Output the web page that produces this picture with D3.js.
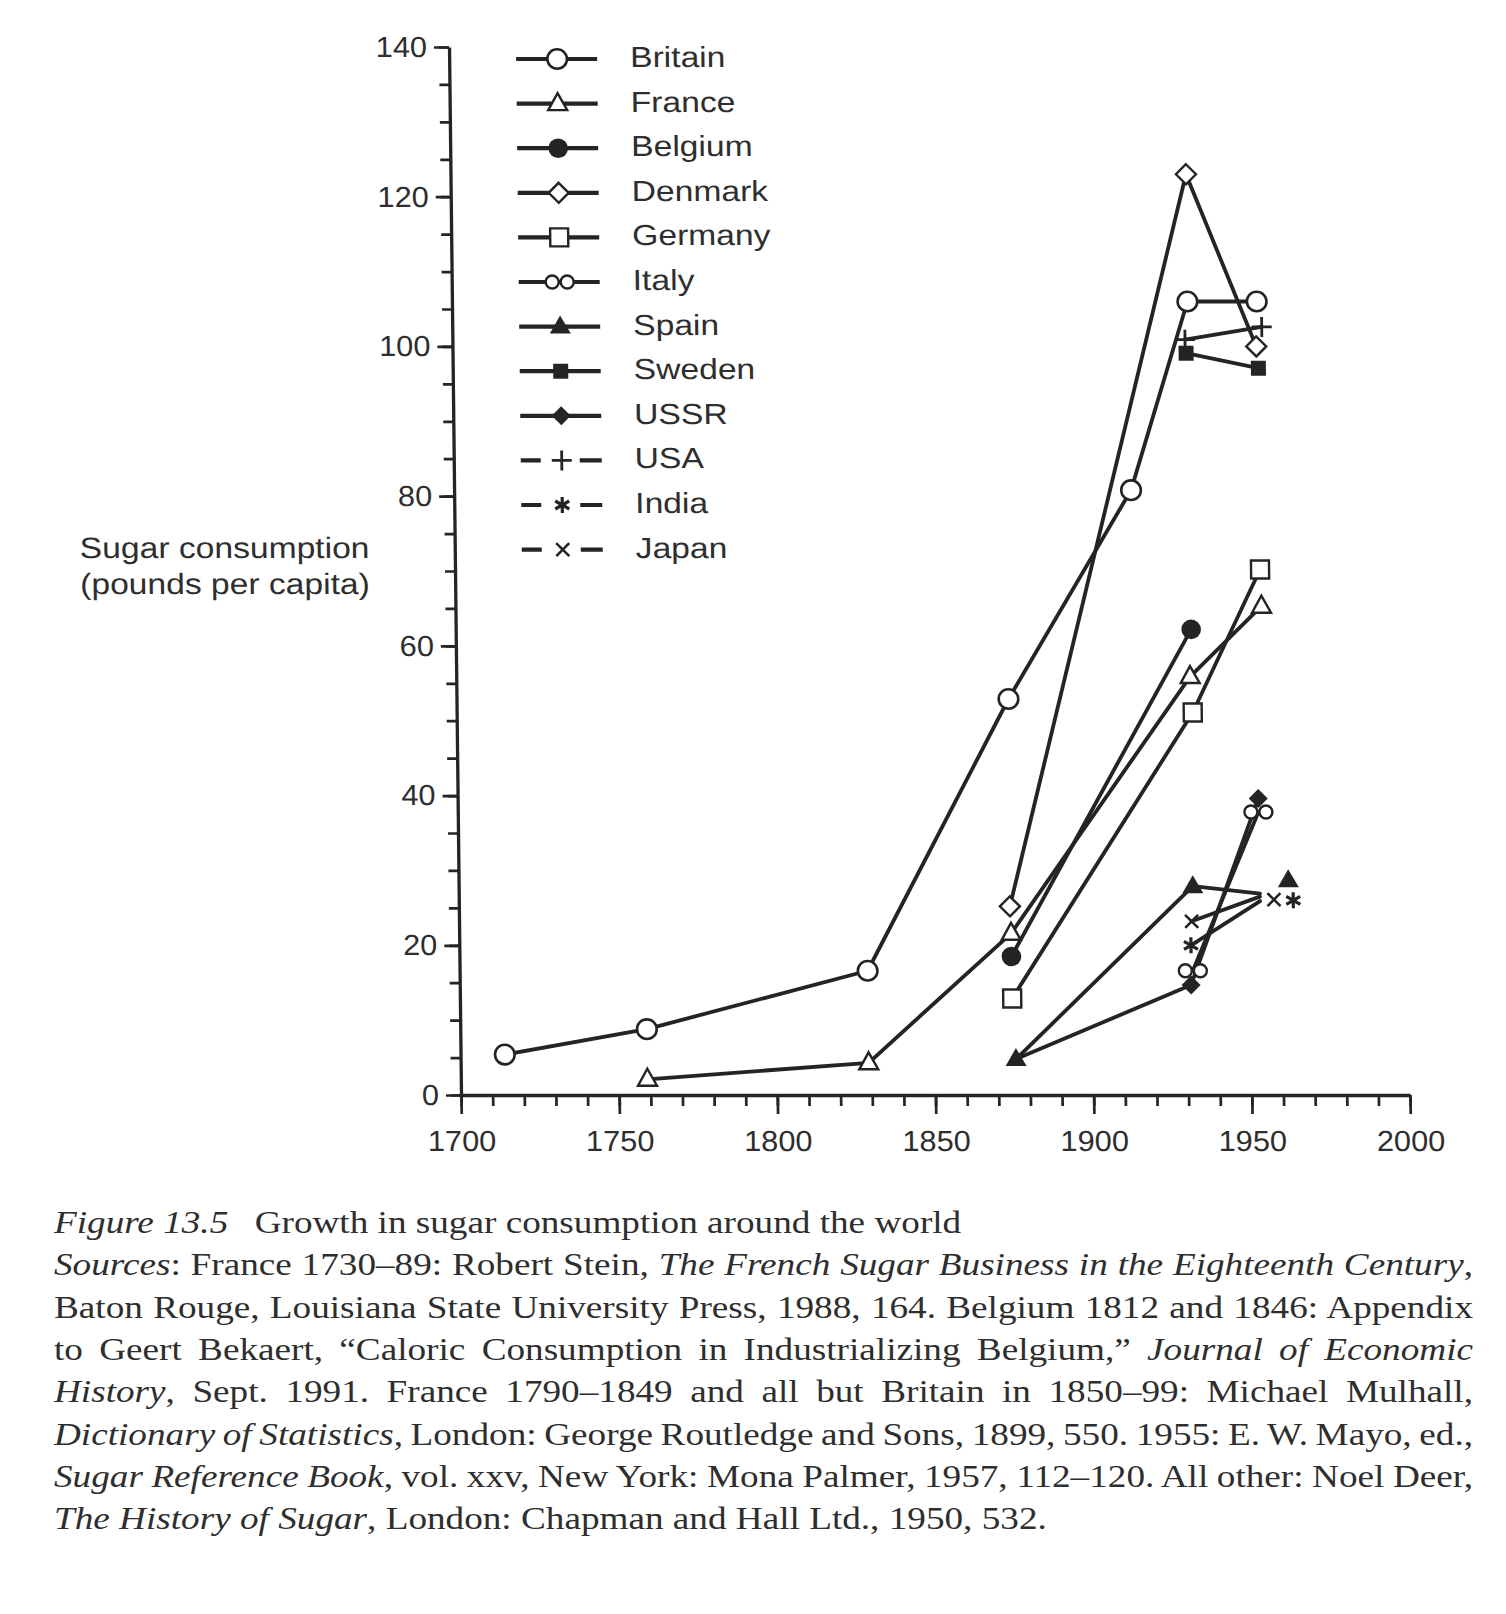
<!DOCTYPE html>
<html>
<head>
<meta charset="utf-8">
<script src="https://cdn.jsdelivr.net/npm/d3@7"></script>
<style>
body { margin: 0; background: #fff; }
</style>
</head>
<body>
<svg id="chart" width="1506" height="1614"></svg>
<script>
// ---- data (year, pounds per capita) ----
var countries = ["Britain", "France", "Belgium", "Denmark", "Germany", "Italy", "Spain", "Sweden", "USSR", "USA", "India", "Japan"];
var xTicks = [1700, 1750, 1800, 1850, 1900, 1950, 2000];
var yTicks = [0, 20, 40, 60, 80, 100, 120, 140];

var britainYears = [1714, 1759, 1829, 1874.5, 1914, 1932.5, 1954.4];
var britainValues = [5.4, 8.8, 16.6, 52.9, 80.8, 106, 106];
var franceYears = [1759, 1829, 1874.5, 1932, 1954.8];
var franceValues = [2.1, 4.3, 21.6, 55.9, 65.3];
var belgiumYears = [1874.5, 1932.5];
var belgiumValues = [18.5, 62.2];
var denmarkYears = [1874.2, 1932.5, 1954.1];
var denmarkValues = [25.2, 123, 100];
var germanyYears = [1874.6, 1932.7, 1954.5];
var germanyValues = [12.9, 51.1, 70.2];
var italyYears = [1931.8, 1953.1];
var italyValues = [16.6, 37.8];
var spainYears = [1875.6, 1932.1, 1953.3];
var spainValues = [4.8, 27.9, 26.9];
var spainMarkYears = [1875.6, 1932.1, 1962.3];   // last marker sits off the line end
var spainMarkValues = [4.8, 27.9, 28.7];
var swedenYears = [1931.9, 1954.7];
var swedenValues = [99.1, 97.1];
var ussrYears = [1875.6, 1931.2, 1953.1];
var ussrValues = [4.8, 14.7, 39.6];
var ussrMarkYears = [1931.2, 1953.1];
var ussrMarkValues = [14.7, 39.6];
var usaYears = [1931.6, 1955.9];
var usaValues = [100.9, 102.6];
var indiaYears = [1931.3, 1953.3];
var indiaValues = [20.0, 25.9];
var indiaMarkYears = [1931.3, 1963.8];
var indiaMarkValues = [20.0, 26.0];
var japanYears = [1931.6, 1953.3];
var japanValues = [23.2, 26.5];
var japanMarkYears = [1931.6, 1957.7];
var japanMarkValues = [23.2, 26.1];

var captionLines = [
  [["Figure 13.5", 1], ["Growth in sugar consumption around the world", 0]],
  [["Sources", 1], [": France 1730\u201389: Robert Stein, ", 0], ["The French Sugar Business in the Eighteenth Century", 1], [",", 0]],
  [["Baton Rouge, Louisiana State University Press, 1988, 164. Belgium 1812 and 1846: Appendix", 0]],
  [["to Geert Bekaert, \u201cCaloric Consumption in Industrializing Belgium,\u201d ", 0], ["Journal of Economic", 1]],
  [["History", 1], [", Sept. 1991. France 1790\u20131849 and all but Britain in 1850\u201399: Michael Mulhall,", 0]],
  [["Dictionary of Statistics", 1], [", London: George Routledge and Sons, 1899, 550. 1955: E. W. Mayo, ed.,", 0]],
  [["Sugar Reference Book", 1], [", vol. xxv, New York: Mona Palmer, 1957, 112\u2013120. All other: Noel Deer,", 0]],
  [["The History of Sugar", 1], [", London: Chapman and Hall Ltd., 1950, 532.", 0]]
];

function zip(a, b) { return a.map(function (v, i) { return [v, b[i]]; }); }

var series = [
  {shape: "circle", line: zip(britainYears, britainValues)},
  {shape: "triangle", line: zip(franceYears, franceValues)},
  {shape: "dot", line: zip(belgiumYears, belgiumValues)},
  {shape: "diamond", line: zip(denmarkYears, denmarkValues)},
  {shape: "square", line: zip(germanyYears, germanyValues)},
  {shape: "twin", line: zip(italyYears, italyValues)},
  {shape: "triFill", line: zip(spainYears, spainValues), marks: zip(spainMarkYears, spainMarkValues)},
  {shape: "squareFill", line: zip(swedenYears, swedenValues)},
  {shape: "diamondFill", line: zip(ussrYears, ussrValues), marks: zip(ussrMarkYears, ussrMarkValues)},
  {shape: "plus", line: zip(usaYears, usaValues), dashed: true},
  {shape: "star", line: zip(indiaYears, indiaValues), marks: zip(indiaMarkYears, indiaMarkValues), dashed: true},
  {shape: "cross", line: zip(japanYears, japanValues), marks: zip(japanMarkYears, japanMarkValues), dashed: true}
];
series.forEach(function (s, i) { s.name = countries[i]; if (!s.marks) s.marks = s.line; });

var ink = "#242424";
var textInk = "#2e2e2e";
var sans = "'Liberation Sans', Arial, Helvetica, sans-serif";
var serif = "'Liberation Serif', 'Times New Roman', serif";

var svg = d3.select("#chart");
svg.append("rect").attr("width", 1506).attr("height", 1614).attr("fill", "#fff");

// the scan is slightly sheared: top of the y axis sits ~12px left of its foot
var chart = svg.append("g")
  .attr("transform", "translate(0,1095) skewX(0.655) translate(0,-1095)");

var x = d3.scaleLinear().domain([1700, 2000]).range([461, 1410]);
var y = d3.scaleLinear().domain([0, 140]).range([1095, 47]);

// keep a text's anchor fixed while widening the glyphs
function stretch(sel, sx) {
  sel.attr("transform", function () {
    var ax = +(this.getAttribute("x") || 0);
    return "translate(" + (ax * (1 - sx)) + ",0) scale(" + sx + ",1)";
  });
}

// ---- axes ----
var xMinor = chart.append("g").attr("transform", "translate(0,1095)")
  .call(d3.axisBottom(x).tickValues(d3.range(1700, 2001, 10)).tickSize(11).tickFormat(""));
xMinor.select(".domain").remove();
var xMajor = chart.append("g").attr("transform", "translate(0,1095)")
  .call(d3.axisBottom(x).tickValues(xTicks).tickSize(19).tickSizeOuter(0).tickPadding(16).tickFormat(d3.format("d")));

var yMinor = chart.append("g").attr("transform", "translate(461,0)")
  .call(d3.axisLeft(y).tickValues(d3.range(0, 141, 5)).tickSize(10).tickFormat(""));
yMinor.select(".domain").remove();
var yMajor = chart.append("g").attr("transform", "translate(461,0)")
  .call(d3.axisLeft(y).tickValues(yTicks).tickSize(15).tickSizeOuter(0).tickPadding(7));

chart.selectAll(".tick line").attr("stroke", ink).attr("stroke-width", 2.7);
chart.selectAll(".domain").attr("stroke", ink).attr("stroke-width", 3.3);
chart.selectAll(".tick text")
  .attr("fill", textInk).attr("font-family", sans).attr("font-size", 29);
stretch(xMajor.selectAll(".tick text"), 1.06);
stretch(yMajor.selectAll(".tick text"), 1.06);

// y title
var yTitle = chart.append("text").attr("font-family", sans).attr("font-size", 29.5).attr("fill", textInk)
  .attr("transform", "translate(" + (86 * (1 - 1.14)) + ",0) scale(1.14,1)");
yTitle.append("tspan").attr("x", 86).attr("y", 558).text("Sugar consumption");
yTitle.append("tspan").attr("x", 86).attr("y", 594).text("(pounds per capita)");

// ---- markers ----
function marker(g, shape) {
  switch (shape) {
    case "circle":
      g.append("circle").attr("r", 9.8).attr("fill", "#fff").attr("stroke", ink).attr("stroke-width", 2.6); break;
    case "dot":
      g.append("circle").attr("r", 9.8).attr("fill", ink); break;
    case "triangle":
      g.append("path").attr("d", "M0,-10.5L9.5,6.5L-9.5,6.5Z").attr("fill", "#fff").attr("stroke", ink).attr("stroke-width", 2.4); break;
    case "triFill":
      g.append("path").attr("d", "M0,-11L10.5,7L-10.5,7Z").attr("fill", ink); break;
    case "diamond":
      g.append("path").attr("d", "M0,-10L10,0L0,10L-10,0Z").attr("fill", "#fff").attr("stroke", ink).attr("stroke-width", 2.4); break;
    case "diamondFill":
      g.append("path").attr("d", "M0,-9.5L9.5,0L0,9.5L-9.5,0Z").attr("fill", ink); break;
    case "square":
      g.append("rect").attr("x", -9).attr("y", -9).attr("width", 18).attr("height", 18)
        .attr("fill", "#fff").attr("stroke", ink).attr("stroke-width", 2.4); break;
    case "squareFill":
      g.append("rect").attr("x", -7.5).attr("y", -7.5).attr("width", 15).attr("height", 15).attr("fill", ink); break;
    case "twin":
      [-7.5, 7.5].forEach(function (dx) {
        g.append("circle").attr("cx", dx).attr("r", 6.5).attr("fill", "#fff").attr("stroke", ink).attr("stroke-width", 2.4);
      }); break;
    case "plus":
      g.append("path").attr("d", "M-10,0H10M0,-10V10").attr("stroke", ink).attr("stroke-width", 2.8); break;
    case "star":
      g.append("path").attr("d", "M0,-8V8M-7,-4L7,4M-7,4L7,-4").attr("stroke", ink).attr("stroke-width", 3.2); break;
    case "cross":
      g.append("path").attr("d", "M-6.5,-6.5L6.5,6.5M-6.5,6.5L6.5,-6.5").attr("stroke", ink).attr("stroke-width", 2.6); break;
  }
}

// ---- lines then markers ----
var line = d3.line().x(function (d) { return x(d[0]); }).y(function (d) { return y(d[1]); });

chart.append("g").selectAll("path").data(series).join("path")
  .attr("d", function (d) { return line(d.line); })
  .attr("fill", "none").attr("stroke", ink).attr("stroke-width", 3.8)
  .attr("stroke-linejoin", "round").attr("stroke-linecap", "round");

var marks = chart.append("g");
series.forEach(function (s) {
  s.marks.forEach(function (p) {
    var g = marks.append("g").attr("transform", "translate(" + x(p[0]) + "," + y(p[1]) + ")");
    marker(g, s.shape);
  });
});

// ---- legend ----
var legend = chart.append("g");
series.forEach(function (s, i) {
  var g = legend.append("g").attr("transform", "translate(0," + (59 + i * 44.6) + ")");
  if (s.dashed) {
    g.append("path").attr("d", "M528,0H548M587,0H609").attr("stroke", ink).attr("stroke-width", 4.2);
  } else {
    g.append("path").attr("d", "M528,0H609").attr("stroke", ink).attr("stroke-width", 4.2);
  }
  marker(g.append("g").attr("transform", "translate(569,0)"), s.shape);
  g.append("text").attr("x", 642).attr("y", 8)
    .attr("font-family", sans).attr("font-size", 29).attr("fill", textInk)
    .attr("transform", "translate(" + (642 * (1 - 1.16)) + ",0) scale(1.16,1)")
    .text(s.name);
});

// ---- caption ----
var capX = 54, capW = 1419, capSx = 1.2;
captionLines.forEach(function (segs, i) {
  var g = svg.append("g")
    .attr("transform", "translate(" + capX + "," + (1233 + i * 42.3) + ") scale(" + capSx + ",1)");
  var t = g.append("text").attr("x", 0).attr("y", 0)
    .attr("font-family", serif).attr("font-size", 31).attr("fill", textInk);
  segs.forEach(function (sg, j) {
    var ts = t.append("tspan").text(sg[0]);
    if (sg[1]) ts.attr("font-style", "italic");
    if (i === 0 && j === 1) ts.attr("dx", 22);
  });
  // justify the middle lines like the printed block
  if (i > 0 && i < captionLines.length - 1) {
    var full = segs.map(function (sg) { return sg[0]; }).join("");
    var spaces = (full.match(/ /g) || []).length;
    var natural = t.node().getComputedTextLength();
    t.attr("word-spacing", (capW / capSx - natural) / spaces);
  }
});
</script>
</body>
</html>
